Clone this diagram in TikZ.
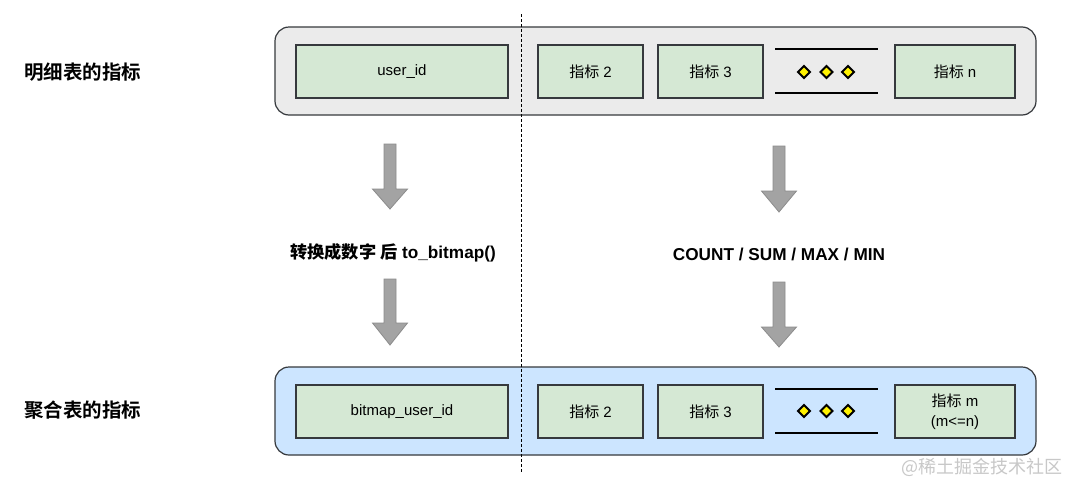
\documentclass[tikz,border=0pt]{standalone}
\usepackage{fontspec}
\setmainfont{Liberation Sans}
\newfontfamily\cjk{Noto Sans CJK SC}
\newfontfamily\cjkb{Noto Sans CJK SC Bold}
\definecolor{cellgreen}{HTML}{D5E8D4}
\definecolor{boxgray}{HTML}{EBEBEB}
\definecolor{boxblue}{HTML}{CCE5FF}
\definecolor{edgedark}{HTML}{36393D}
\definecolor{arrowgray}{HTML}{A3A3A3}
\definecolor{arrowedge}{HTML}{8C8C8C}
\definecolor{wmark}{HTML}{C8C8C8}
\newcommand\blockarr[4]{%
  \fill[arrowgray,draw=arrowedge,line width=0.8pt]
    (#1-6,#2) -- (#1+6,#2) -- (#1+6,#3) -- (#1+17.5,#3) -- (#1,#4)
    -- (#1-17.5,#3) -- (#1-6,#3) -- cycle;}
\newcommand\dia[2]{%
  \filldraw[fill=yellow,draw=black,line width=1.8pt,line join=miter]
    (#1-6,#2) -- (#1,#2-6) -- (#1+6,#2) -- (#1,#2+6) -- cycle;}
\begin{document}
\begin{tikzpicture}[x=1pt,y=-1pt,
  container/.style={draw=edgedark,line width=1.2pt,rounded corners=14pt,
    minimum height=88pt,minimum width=761pt,inner sep=0pt},
  cell/.style={draw=edgedark,fill=cellgreen,line width=1.1pt,minimum height=53pt,
    inner sep=0pt,font=\fontsize{15}{20}\selectfont,align=center},
  sidelabel/.style={font=\cjkb\fontsize{19.5}{22}\selectfont,anchor=west,inner sep=0pt},
  midlabel/.style={font=\bfseries\fontsize{17.2}{20}\selectfont,inner sep=0pt},
  dotline/.style={line width=2pt,black}]
\useasboundingbox (0,0) rectangle (1080,493);
\fill[white] (0,0) rectangle (1080,493);

% containers
\node[container,fill=boxgray] (topbox) at (655.5,71) {};
\node[container,fill=boxblue] (botbox) at (655.5,411) {};

% top cells
\node[cell,minimum width=212pt] (tuid) at (402,71.5) {user\_id};
\node[cell,minimum width=105pt] (t2) at (590.5,71.5) {{\cjk 指标} 2};
\node[cell,minimum width=105pt] (t3) at (710.5,71.5) {{\cjk 指标} 3};
\node[cell,minimum width=120pt] (tn) at (955,71.5) {{\cjk 指标} n};
\draw[dotline] (775,49) -- (878,49);
\draw[dotline] (775,93) -- (878,93);
\dia{804}{72}\dia{826.5}{72}\dia{848}{72}

% bottom cells
\node[cell,minimum width=212pt] (buid) at (402,411.5) {bitmap\_user\_id};
\node[cell,minimum width=105pt] (b2) at (590.5,411.5) {{\cjk 指标} 2};
\node[cell,minimum width=105pt] (b3) at (710.5,411.5) {{\cjk 指标} 3};
\node[cell,minimum width=120pt] (bm) at (955,411.5) {{\cjk 指标} m\\(m<=n)};
\draw[dotline] (775,389) -- (878,389);
\draw[dotline] (775,433) -- (878,433);
\dia{804}{411}\dia{826.5}{411}\dia{848}{411}

% side labels
\node[sidelabel] (lt) at (24,72) {明细表的指标};
\node[sidelabel] (lb) at (24,410) {聚合表的指标};

% arrows
\blockarr{390}{144}{189}{209}
\blockarr{390}{279}{323}{345}
\blockarr{779}{146}{191}{212}
\blockarr{779}{282}{327}{347}

% middle labels
\node[midlabel] (ml) at (393,253) {{\cjkb 转换成数字 后} to\_bitmap()};
\node[midlabel] (mr) at (779,254) {COUNT / SUM / MAX / MIN};

% dashed divider
\draw[line width=0.9pt,dash pattern=on 3pt off 2pt] (521,14) -- (521,472);

% watermark
\node[font=\cjk\fontsize{18}{20}\selectfont,text=wmark,inner sep=0pt] (wm) at (982,467) {@稀土掘金技术社区};
\end{tikzpicture}
\end{document}
